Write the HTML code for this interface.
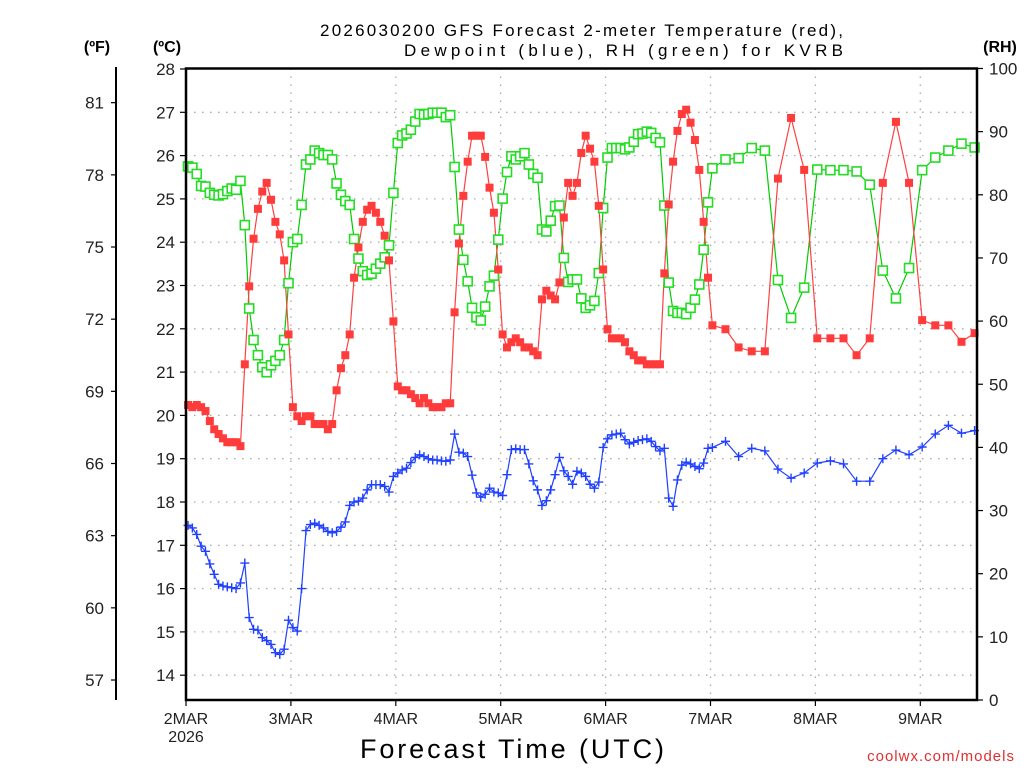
<!DOCTYPE html>
<html><head><meta charset="utf-8">
<style>
html,body{margin:0;padding:0;background:#fff;}
svg{display:block;font-family:"Liberation Sans","DejaVu Sans",sans-serif;}
</style></head>
<body>
<svg id="chart" width="1024" height="768" viewBox="0 0 1024 768" xmlns="http://www.w3.org/2000/svg">
<rect width="1024" height="768" fill="#fff"/>
<g id="grid"></g>
<g id="series"></g>
<g id="axes"></g>
<text x="320" y="36" font-size="17" textLength="523" lengthAdjust="spacing" fill="#000">2026030200 GFS Forecast 2-meter Temperature (red),</text>
<text x="404" y="56" font-size="17" textLength="439" lengthAdjust="spacing" fill="#000">Dewpoint (blue), RH (green) for KVRB</text>
<text x="97" y="52" font-size="16" font-weight="bold" text-anchor="middle">(ºF)</text>
<text x="167" y="52" font-size="16" font-weight="bold" text-anchor="middle">(ºC)</text>
<text x="1000" y="52" font-size="16" font-weight="bold" text-anchor="middle">(RH)</text>
<text x="360" y="758" font-size="27" textLength="304" lengthAdjust="spacing">Forecast Time (UTC)</text>
<text x="1015" y="761" font-size="15" text-anchor="end" fill="#e03030" letter-spacing="1">coolwx.com/models</text>
</svg>
<script>
const hours=[0,1,2,3,4,5,6,7,8,9,10,11,12,13,14,15,16,17,18,19,20,21,22,23,24,25,26,27,28,29,30,31,32,33,34,35,36,37,38,39,40,41,42,43,44,45,46,47,48,49,50,51,52,53,54,55,56,57,58,59,60,61,62,63,64,65,66,67,68,69,70,71,72,73,74,75,76,77,78,79,80,81,82,83,84,85,86,87,88,89,90,91,92,93,94,95,96,97,98,99,100,101,102,103,104,105,106,107,108,109,110,111,112,113,114,115,116,117,118,119,120,123,126,129,132,135,138,141,144,147,150,153,156,159,162,165,168,171,174,177,180];
const tempC=[20.24,20.19,20.24,20.19,20.10,19.87,19.68,19.57,19.47,19.38,19.38,19.38,19.29,21.18,22.98,24.08,24.77,25.17,25.37,24.98,24.47,24.18,23.58,21.87,20.19,19.98,19.87,19.98,19.98,19.80,19.80,19.80,19.68,19.80,20.58,21.09,21.39,21.87,23.18,23.88,24.47,24.75,24.84,24.68,24.47,24.15,23.58,22.17,20.67,
20.58,20.58,20.49,20.40,20.28,20.40,20.28,20.19,20.19,20.19,20.28,20.28,22.38,23.97,25.07,25.86,26.46,26.46,26.46,25.97,25.26,24.68,23.37,21.87,21.57,21.69,21.78,21.69,21.57,21.57,21.48,21.39,22.68,22.88,22.77,22.68,23.07,24.57,25.37,25.07,25.37,26.06,26.46,26.16,25.86,24.84,23.37,21.99,
21.78,21.78,21.78,21.69,21.48,21.39,21.27,21.27,21.18,21.18,21.18,21.18,23.28,24.87,25.86,26.57,26.96,27.06,26.76,26.36,25.67,24.47,23.18,22.08,
21.99,21.57,21.48,21.48,25.47,26.87,25.67,21.78,
21.78,21.78,21.39,21.78,25.37,26.78,25.37,22.2,22.08,22.08,21.7,21.9];
const dewC=[17.46,17.40,17.25,16.98,16.86,16.57,16.33,16.10,16.06,16.04,16.02,16.00,16.13,16.59,15.33,15.06,15.04,14.87,14.80,14.71,14.52,14.48,14.60,15.27,15.10,15.02,16.00,17.34,17.48,17.51,17.46,17.40,17.32,17.29,17.32,17.42,17.54,17.92,18.00,18.02,18.09,18.28,18.40,18.40,18.40,18.36,18.23,18.59,18.67,
18.74,18.78,18.91,19.03,19.09,19.05,19.00,18.97,18.97,18.95,18.94,18.97,19.57,19.15,19.13,19.05,18.62,18.21,18.11,18.18,18.32,18.23,18.21,18.15,18.63,19.21,19.23,19.21,19.21,18.88,18.49,18.28,17.92,18.03,18.28,18.63,19.03,18.72,18.59,18.41,18.71,18.67,18.59,18.41,18.32,18.46,19.26,19.46,
19.55,19.57,19.59,19.44,19.34,19.38,19.42,19.44,19.46,19.40,19.28,19.18,19.24,18.09,17.90,18.51,18.85,18.92,18.88,18.82,18.77,18.90,19.24,19.26,
19.40,19.05,19.24,19.18,18.76,18.55,18.67,18.90,
18.95,18.88,18.48,18.48,19.00,19.20,19.09,19.27,19.57,19.77,19.59,19.65];
const rh=[84.5,84.3,83.3,81.4,81.3,80.3,80.0,79.9,80.1,80.6,81.0,80.8,82.2,75.2,62.0,57.0,54.6,52.7,51.9,53.0,53.7,54.6,57.0,66.0,72.5,73.0,78.4,84.8,85.6,87.0,86.6,86.3,86.3,85.6,81.8,80.0,79.0,78.4,73.0,69.9,67.9,67.3,67.5,68.3,69.1,70.1,72.0,80.3,88.2,
89.4,89.7,90.3,91.6,92.8,92.7,92.8,93.0,93.0,93.0,92.3,92.6,84.4,74.5,69.7,66.3,62.1,60.6,60.1,62.3,65.5,67.2,72.9,79.4,83.6,86.1,85.6,86.1,86.6,84.8,83.3,82.7,74.5,74.2,75.9,78.2,78.3,70.0,66.2,66.6,66.6,63.6,62.1,62.5,63.2,67.6,77.9,85.9,
87.4,87.4,87.4,87.2,87.5,88.4,89.6,89.7,90.0,89.8,89.0,88.3,78.3,66.1,61.6,61.3,61.3,61.1,62.1,63.4,65.8,71.3,78.8,84.2,
85.6,85.8,87.4,87.0,66.5,60.5,65.3,84.0,
83.9,83.9,83.7,81.6,68.0,63.6,68.4,83.9,85.9,87.0,88.1,87.5];
const cTicks=[14,15,16,17,18,19,20,21,22,23,24,25,26,27,28];
const fTicks=[57,60,63,66,69,72,75,78,81];
const rhTicks=[0,10,20,30,40,50,60,70,80,90,100];
const dayLabels=["2MAR","3MAR","4MAR","5MAR","6MAR","7MAR","8MAR","9MAR"];

const L=186,R=977,T=68.5,B=700;
const hourPx=4.37;
function xh(h){return L+2+h*hourPx;}
function yc(c){return 69+(28-c)*43.3;}
function yf(f){return yc((f-32)*5/9);}
function yr(r){return B-(r/100)*(B-T);}
const NS="http://www.w3.org/2000/svg";
function mk(tag,attrs,parent){const e=document.createElementNS(NS,tag);for(const k in attrs)e.setAttribute(k,attrs[k]);parent.appendChild(e);return e;}
const grid=document.getElementById('grid'),series=document.getElementById('series'),axes=document.getElementById('axes');
function xd(i){return L+i*104.9;}

cTicks.forEach(c=>{if(c===28)return;const y=yc(c);
 const g=mk('line',{x1:L,x2:R,y1:y,y2:y,stroke:'#aaa','stroke-width':1.3,'stroke-dasharray':'1.5,6.5'},grid);
 
 
});
dayLabels.forEach((d,i)=>{if(i===0)return;const x=xd(i);
 const g=mk('line',{x1:x,x2:x,y1:T,y2:B,stroke:'#aaa','stroke-width':1.3,'stroke-dasharray':'1.5,6.5'},grid);
 
 
});

function line(vals,yfn,color,name){
 const pts=vals.map((v,i)=>xh(hours[i]).toFixed(1)+','+yfn(v).toFixed(1)).join(' ');
 const p=mk('polyline',{points:pts,fill:'none',stroke:color,'stroke-width':1.2},series);
 
 
}
line(rh,yr,'#00cc00','rh-line');
line(dewC,yc,'#2040ff','dewpoint-line');
line(tempC,yc,'#ff4040','temperature-line');
rh.forEach((v,i)=>{const x=xh(hours[i]),y=yr(v);
 const m=mk('rect',{x:x-4.5,y:y-4.5,width:9,height:9,fill:'#fff',stroke:'#22dd22','stroke-width':1.6},series);
 
 
});
dewC.forEach((v,i)=>{const x=xh(hours[i]),y=yc(v);
 const m=mk('path',{d:`M${x-4.5},${y}H${x+4.5}M${x},${y-4.5}V${y+4.5}`,stroke:'#2040ff','stroke-width':1.4,fill:'none'},series);
 
 
});
tempC.forEach((v,i)=>{const x=xh(hours[i]),y=yc(v);
 const m=mk('rect',{x:x-4,y:y-4,width:8,height:8,fill:'#ff3b3b'},series);
 
 
});

const fr=mk('rect',{x:L,y:T,width:R-L,height:B-T,fill:'none',stroke:'#000','stroke-width':2.5},axes);


cTicks.forEach(c=>{const y=yc(c);
 const t=mk('line',{x1:L-6,x2:L,y1:y,y2:y,stroke:'#000','stroke-width':1.2},axes);
 
 
 const tx=mk('text',{x:L-11,y:y+6,'font-size':17,'text-anchor':'end',fill:'#222'},axes);
 tx.textContent=c;
 
 
});
const fl=mk('line',{x1:116,x2:116,y1:67,y2:B,stroke:'#000','stroke-width':2},axes);


fTicks.forEach(f=>{const y=yf(f);
 const t=mk('line',{x1:111,x2:116,y1:y,y2:y,stroke:'#000','stroke-width':1.2},axes);
 
 
 const tx=mk('text',{x:104,y:y+6,'font-size':17,'text-anchor':'end',fill:'#222'},axes);
 tx.textContent=f;
 
 
});
rhTicks.forEach(r=>{const y=yr(r);
 const t=mk('line',{x1:R,x2:R+6,y1:y,y2:y,stroke:'#000','stroke-width':1.2},axes);
 
 
 const tx=mk('text',{x:R+12,y:y+6,'font-size':17,'text-anchor':'start',fill:'#222'},axes);
 tx.textContent=r;
 
 
});
dayLabels.forEach((d,i)=>{const x=xd(i);
 const t=mk('line',{x1:x,x2:x,y1:B,y2:B+6,stroke:'#000','stroke-width':1.2},axes);
 
 
 const tx=mk('text',{x:x,y:B+24,'font-size':16,'text-anchor':'middle',fill:'#222'},axes);
 tx.textContent=d;
 
 
});
const yr2=mk('text',{x:xd(0),y:B+42,'font-size':16,'text-anchor':'middle',fill:'#222'},axes);
yr2.textContent='2026';


</script>
</body></html>
